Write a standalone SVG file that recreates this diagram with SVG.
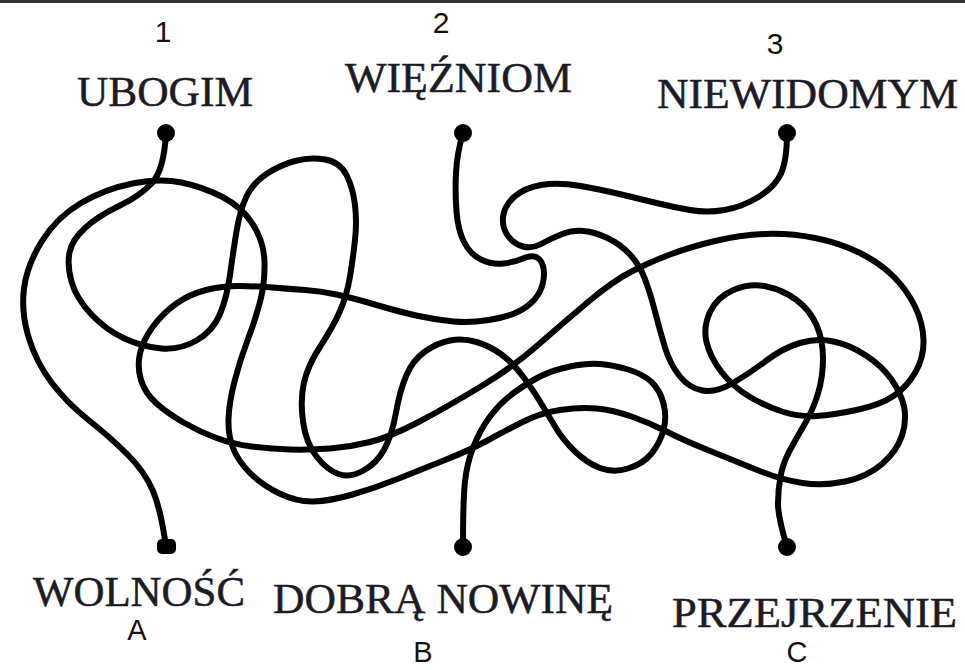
<svg xmlns="http://www.w3.org/2000/svg" width="965" height="670" viewBox="0 0 965 670">
<style>
.lbl{font-family:"Liberation Serif","Times New Roman",serif;font-size:42px;fill:#1c1c26;stroke:#1c1c26;stroke-width:0.5}
.num{font-family:"Liberation Sans",Arial,sans-serif;font-size:30px;fill:#111;text-anchor:middle}
.let{font-family:"Liberation Sans",Arial,sans-serif;font-size:29px;fill:#111;text-anchor:middle}
.dot{fill:#000}
.wire{fill:none;stroke:#000;stroke-width:6;stroke-linecap:round;stroke-linejoin:round}
</style>
<rect width="965" height="670" fill="#fff"/>
<line x1="0" y1="1.5" x2="965" y2="1.5" stroke="#333" stroke-width="3"/>
<g id="connectors">
<path id="strand-1" class="wire" d="M166,133 Q164,170 152,183 Q140,196 119,206 Q98,216 85,228 Q72,240 69.5,252.5 Q67,265 71.5,281.5 Q76,298 91,314 Q106,330 124.5,338.5 Q143,347 161.5,348.5 Q180,350 196.5,340.5 Q213,331 220,314 Q227,297 230,275 Q233,253 236.5,231.5 Q240,210 246.5,196.5 Q253,183 266.5,174 Q280,165 295,161 Q310,157 325,159.5 Q340,162 346.5,175 Q353,188 355,205 Q357,222 355,240 Q353,258 350,276.5 Q347,295 340,311 Q333,327 320.5,346 Q308,365 304,382.5 Q300,400 303,421.5 Q306,443 316.5,456.5 Q327,470 338.5,474 Q350,478 363.5,470.5 Q377,463 384.5,449 Q392,435 396,412.5 Q400,390 406.5,375 Q413,360 425,351.5 Q437,343 450,340.5 Q463,338 476.5,342 Q490,346 501.5,354.5 Q513,363 523,376.5 Q533,390 540,401.5 Q547,413 555,426.5 Q563,440 575,451.5 Q587,463 600,468 Q613,473 628,468.5 Q643,464 651.5,453.5 Q660,443 663.5,430 Q667,417 663.5,403.5 Q660,390 651.5,382 Q643,374 628,369.5 Q613,365 600,364 Q587,363 570,366.5 Q553,370 540,376.5 Q527,383 513.5,393 Q500,403 490,416.5 Q480,430 473.5,446.5 Q467,463 465,481.5 Q463,500 463,547"/>
<path id="strand-2" class="wire" d="M463,133 Q457,153 456,173 Q455,193 456.5,211.5 Q458,230 464,242 Q470,254 481,259.5 Q492,265 503.5,263.5 Q515,262 523,258.5 Q531,255 536,257 Q541,259 543,266 Q545,273 543,282.5 Q541,292 534.5,299.5 Q528,307 517.5,312 Q507,317 488.5,320 Q470,323 453.5,321.5 Q437,320 418.5,316 Q400,312 376.5,305 Q353,298 336.5,294.5 Q320,291 305,290 Q290,289 272.5,287.5 Q255,286 238.5,286 Q222,286 206,290 Q190,294 176.5,303.5 Q163,313 153,326.5 Q143,340 140,353.5 Q137,367 141,380 Q145,393 156,403 Q167,413 183.5,422.5 Q200,432 216.5,438 Q233,444 251.5,446.5 Q270,449 290,449.5 Q310,450 330,448.5 Q350,447 370,442 Q390,437 418.5,422 Q447,407 480,387 Q513,367 538,345 Q563,323 588,302 Q613,281 631.5,271.5 Q650,262 670,254.5 Q690,247 715,241 Q740,235 765,234 Q790,233 815,238 Q840,243 860,253 Q880,263 893.5,276.5 Q907,290 915,306.5 Q923,323 923.5,340 Q924,357 915.5,372 Q907,387 893.5,396 Q880,405 856.5,410 Q833,415 816.5,416 Q800,417 783.5,412 Q767,407 750,397 Q733,387 721.5,372 Q710,357 706.5,342 Q703,327 710,312 Q717,297 733.5,290 Q750,283 766.5,286.5 Q783,290 796.5,300 Q810,310 816.5,325 Q823,340 823,358.5 Q823,377 818,393.5 Q813,410 805,423.5 Q797,437 790,450 Q783,463 780.5,476.5 Q778,490 778,503.5 Q778,517 787,547"/>
<path id="strand-3" class="wire" d="M787,133 Q787,160 781,173.5 Q775,187 758.5,197 Q742,207 724.5,210 Q707,213 690,210 Q673,207 656.5,203 Q640,199 621.5,194.5 Q603,190 580.5,186 Q558,182 541,185 Q524,188 514,197 Q504,206 503,217 Q502,228 508,236 Q514,244 523,246.5 Q532,249 541,244 Q550,239 561,234.5 Q572,230 583.5,231 Q595,232 607.5,238 Q620,244 629.5,254 Q639,264 644.5,278 Q650,292 655,311.5 Q660,331 665,347.5 Q670,364 679.5,376 Q689,388 702.5,390.5 Q716,393 733,383 Q750,373 766.5,360.5 Q783,348 800,343 Q817,338 833.5,341.5 Q850,345 866,355.5 Q882,366 891.5,379.5 Q901,393 904,406.5 Q907,420 902,435.5 Q897,451 882,464 Q867,477 845,481.5 Q823,486 802.5,483 Q782,480 758.5,470.5 Q735,461 709,450.5 Q683,440 666.5,431.5 Q650,423 631.5,416.5 Q613,410 596.5,408.5 Q580,407 560,410 Q540,413 521.5,422.5 Q503,432 486.5,441 Q470,450 445,460 Q420,470 397.5,479 Q375,488 352.5,494.5 Q330,501 313.5,501.5 Q297,502 279.5,493.5 Q262,485 250,473 Q238,461 233,448 Q228,435 228.5,419 Q229,403 234.5,381.5 Q240,360 248,339 Q256,318 260.5,300 Q265,282 264.5,262 Q264,242 253,224.5 Q242,207 222.5,197 Q203,187 181.5,182.5 Q160,178 132.5,183.5 Q105,189 81,203 Q57,217 42,241 Q27,265 24,288.5 Q21,312 28.5,337 Q36,362 51.5,382.5 Q67,403 88.5,420 Q110,437 127.5,454.5 Q145,472 153,491 Q161,510 166,547"/>
</g>
<g id="node-1">
<text class="num" x="163" y="42">1</text>
<text class="lbl" x="77" y="106" textLength="176" lengthAdjust="spacingAndGlyphs">UBOGIM</text>
<circle class="dot" cx="166" cy="133" r="9"/>
</g>
<g id="node-2">
<text class="num" x="441" y="33">2</text>
<text class="lbl" x="345" y="92" textLength="227" lengthAdjust="spacingAndGlyphs">WIĘŹNIOM</text>
<circle class="dot" cx="463" cy="133" r="9"/>
</g>
<g id="node-3">
<text class="num" x="775" y="54">3</text>
<text class="lbl" x="657" y="108" textLength="301" lengthAdjust="spacingAndGlyphs">NIEWIDOMYM</text>
<circle class="dot" cx="787" cy="133" r="9"/>
</g>
<g id="node-A">
<rect class="dot" x="157" y="539" width="19" height="15" rx="5"/>
<text class="lbl" x="33" y="606" textLength="212" lengthAdjust="spacingAndGlyphs">WOLNOŚĆ</text>
<text class="let" x="137" y="640">A</text>
</g>
<g id="node-B">
<circle class="dot" cx="463" cy="547" r="9"/>
<text class="lbl" x="273" y="613" textLength="340" lengthAdjust="spacingAndGlyphs">DOBRĄ NOWINĘ</text>
<text class="let" x="423" y="662">B</text>
</g>
<g id="node-C">
<circle class="dot" cx="787" cy="547" r="9"/>
<text class="lbl" x="672" y="627" textLength="285" lengthAdjust="spacingAndGlyphs">PRZEJRZENIE</text>
<text class="let" x="797" y="662">C</text>
</g>
</svg>
